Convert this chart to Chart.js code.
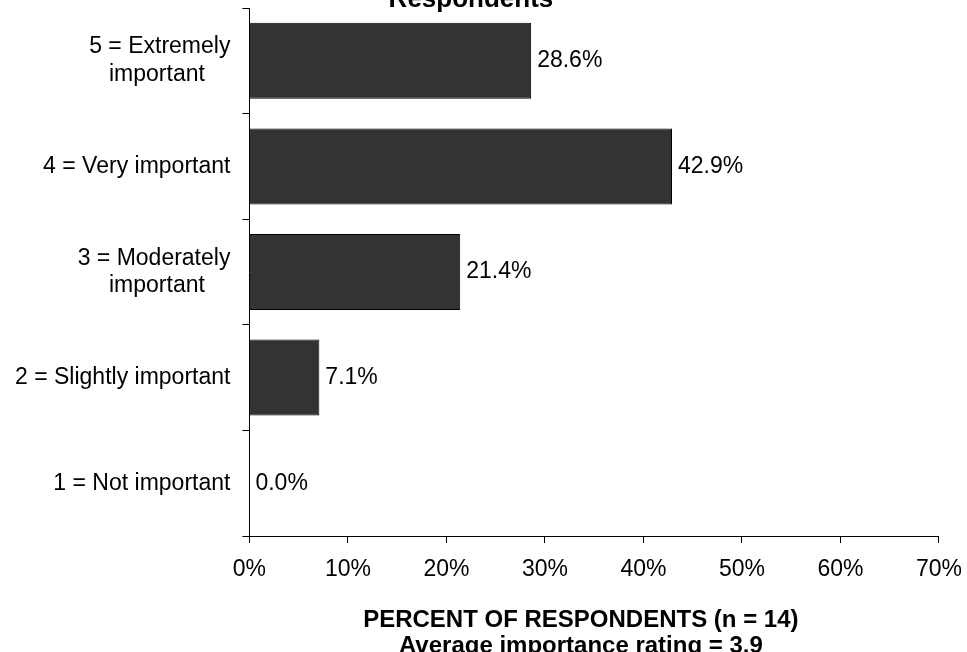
<!DOCTYPE html>
<html>
<head>
<meta charset="utf-8">
<title>Importance rating</title>
<script src="https://cdn.jsdelivr.net/npm/chart.js@4.4.1/dist/chart.umd.min.js"></script>
<style>
    html, body { margin: 0; padding: 0; background: #fff; overflow: hidden; }
    body { width: 967px; height: 652px; position: relative; overflow: hidden; }
    #wrap { position: absolute; left: 0; top: -13px; width: 975px; height: 676px; }
</style>
</head>
<body>
<div id="wrap"><canvas id="ratingChart"></canvas></div>
<script>
// values
const ratingLabels = [
    ['5 = Extremely', 'important'],
    '4 = Very important',
    ['3 = Moderately', 'important'],
    '2 = Slightly important',
    '1 = Not important'
];
const percentValues = [28.6, 42.9, 21.4, 7.1, 0.0];
const percentTicks = [0, 10, 20, 30, 40, 50, 60, 70];
const chartTitle = 'Respondents';
const axisTitle = ['PERCENT OF RESPONDENTS (n = 14)', 'Average importance rating = 3.9'];

const FONT = "'Liberation Sans', Arial, sans-serif";

// multi-line labels: pad the shorter lines so they sit centred under the longer one
const measureCtx = document.createElement('canvas').getContext('2d');
measureCtx.font = '23px ' + FONT;
function centreLines(label) {
    if (!Array.isArray(label)) return label;
    const widths = label.map(l => measureCtx.measureText(l).width);
    const widest = Math.max(...widths);
    const sp = measureCtx.measureText(' ').width;
    return label.map((l, i) => l + ' '.repeat(Math.round((widest - widths[i]) / 2 / sp)));
}

// value labels at the end of each bar
const valueLabels = {
    id: 'valueLabels',
    afterDatasetsDraw(chart) {
        const ctx = chart.ctx;
        const meta = chart.getDatasetMeta(0);
        ctx.save();
        ctx.font = '23px ' + FONT;
        ctx.fillStyle = '#000';
        ctx.textAlign = 'left';
        ctx.textBaseline = 'middle';
        meta.data.forEach((bar, i) => {
            ctx.fillText(percentValues[i].toFixed(1) + '%', bar.x + 6, bar.y);
        });
        ctx.restore();
    }
};

new Chart(document.getElementById('ratingChart'), {
    type: 'bar',
    data: {
        labels: ratingLabels,
        datasets: [{
            data: percentValues,
            backgroundColor: '#333333',
            borderColor: '#000000',
            borderWidth: 1,
            barPercentage: 0.72,
            categoryPercentage: 1
        }]
    },
    options: {
        indexAxis: 'y',
        responsive: true,
        maintainAspectRatio: false,
        animation: false,
        layout: { padding: { left: 3, right: 0, top: 0, bottom: 4.5 } },
        plugins: {
            legend: { display: false },
            tooltip: { enabled: false },
            title: {
                display: true,
                text: chartTitle + '     ',
                color: '#000',
                font: { family: FONT, size: 26, weight: 'bold', lineHeight: 1 },
                padding: { top: 0, bottom: -5 }
            }
        },
        scales: {
            x: {
                type: 'linear',
                min: percentTicks[0],
                max: percentTicks[percentTicks.length - 1],
                afterBuildTicks(scale) {
                    scale.ticks = percentTicks.map(v => ({ value: v }));
                },
                ticks: {
                    color: '#000',
                    padding: 13,
                    font: { family: FONT, size: 23 },
                    callback: v => v + '%'
                },
                grid: { drawOnChartArea: false, drawTicks: true, tickLength: 7, color: '#000' },
                border: { display: true, color: '#000', width: 1 },
                title: {
                    display: true,
                    text: axisTitle.map(t => t + '    '),
                    color: '#000',
                    font: { family: FONT, size: 24, weight: 'bold', lineHeight: 1.05 },
                    padding: { top: 11.5, bottom: 0 }
                }
            },
            y: {
                type: 'category',
                afterFit(scale) {
                    // labels sit in the middle of each band, no end padding needed
                    scale.paddingTop = 0;
                    scale.paddingBottom = 0;
                },
                ticks: {
                    color: '#000',
                    padding: 12,
                    font: { family: FONT, size: 23, lineHeight: 1.2 },
                    callback: function (value, index) {
                        return centreLines(ratingLabels[index]);
                    }
                },
                grid: { offset: true, drawOnChartArea: false, drawTicks: true, tickLength: 7, color: '#000' },
                border: { display: true, color: '#000', width: 1 }
            }
        }
    },
    plugins: [valueLabels]
});
</script>
</body>
</html>
